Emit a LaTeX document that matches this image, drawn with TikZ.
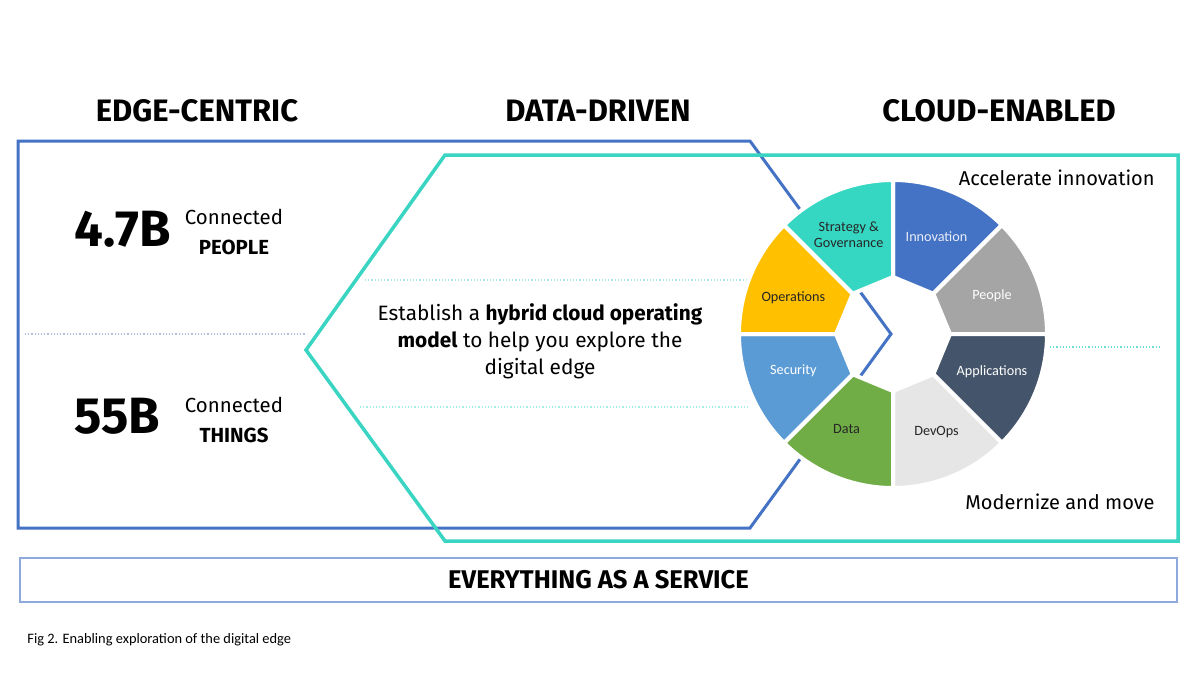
\documentclass[tikz,border=0pt]{standalone}
\usepackage{fontspec}
\usepackage{xcolor}
\usepackage{tikz}
\setmainfont{Fira Sans}
\newfontfamily\calfont{Carlito}
\definecolor{edgeblue}{HTML}{4472C4}
\definecolor{cloudteal}{HTML}{3AD5C2}
\definecolor{barblue}{HTML}{8EA9DB}
\definecolor{stratteal}{HTML}{36D7C2}
\definecolor{innovblue}{HTML}{4472C4}
\definecolor{peoplegray}{HTML}{A5A5A5}
\definecolor{appslate}{HTML}{44546A}
\definecolor{devopsgray}{HTML}{E7E6E6}
\definecolor{datagreen}{HTML}{70AD47}
\definecolor{secblue}{HTML}{5B9BD5}
\definecolor{opsgold}{HTML}{FFC000}

\begin{document}
\begin{tikzpicture}[x=0.5pt, y=0.5pt,
	heading/.style={inner sep=0pt, font=\bfseries\fontsize{15.5}{17}\selectfont},
	bignum/.style={inner sep=0pt, anchor=west, font=\bfseries\fontsize{25.5}{28}\selectfont},
	pairtxt/.style={inner sep=0pt, font=\fontsize{10.2}{12}\selectfont},
	bodytxt/.style={inner sep=0pt, font=\fontsize{10}{13.5}\selectfont},
	edgeline/.style={draw=edgeblue, line width=1.5pt, line join=miter},
	cloudline/.style={draw=cloudteal, line width=1.75pt, line join=miter},
	dotline/.style={densely dotted, line width=0.6pt},
	seg/.style={draw=white, line width=2pt, line join=round},
	seglabel/.style={inner sep=0pt, align=center, font=\calfont\fontsize{7.1}{8.2}\selectfont},
	servicebar/.style={draw=barblue, line width=1.1pt, minimum width=578.5pt, minimum height=22pt, inner sep=0pt, font=\bfseries\fontsize{12.8}{14}\selectfont},
	caption/.style={inner sep=0pt, anchor=west, font=\calfont\fontsize{7.2}{8.5}\selectfont}
	]
		\fill[white] (0,0) rectangle (1200,677);
		\useasboundingbox (0,0) rectangle (1200,677);
		
		\coordinate (leftdot a) at (25,343);
		\coordinate (leftdot b) at (305,343);
		\coordinate (middot a) at (365,397);
		\coordinate (middot b) at (748,397);
		\coordinate (lowdot a) at (360,270);
		\coordinate (lowdot b) at (748,270);
		\coordinate (rightdot a) at (1050,330);
		\coordinate (rightdot b) at (1160,330);
		\draw[dotline, draw=edgeblue!45] (leftdot a) -- (leftdot b);
		\draw[dotline, draw=cloudteal!45] (middot a) -- (middot b);
		\draw[dotline, draw=cloudteal!45] (lowdot a) -- (lowdot b);
		\draw[dotline, draw=cloudteal!75] (rightdot a) -- (rightdot b);
		
		\draw[edgeline] (18,536) -- (750,536) -- (891,343) -- (750,149) -- (18,149) -- cycle;
		\draw[cloudline] (306,327) -- (445,522) -- (1178,522) -- (1178,136) -- (445,136) -- cycle;
		
		\begin{scope}[shift={(893,343)}]
		\filldraw[seg, fill=innovblue] (45:154) arc[start angle=45, end angle=90, radius=154] -- (90:57) -- (45:57) -- cycle;
		\filldraw[seg, fill=peoplegray] (0:154) arc[start angle=0, end angle=45, radius=154] -- (45:57) -- (0:57) -- cycle;
		\filldraw[seg, fill=appslate] (-45:154) arc[start angle=-45, end angle=0, radius=154] -- (0:57) -- (-45:57) -- cycle;
		\filldraw[seg, fill=devopsgray] (-90:154) arc[start angle=-90, end angle=-45, radius=154] -- (-45:57) -- (-90:57) -- cycle;
		\filldraw[seg, fill=datagreen] (-135:154) arc[start angle=-135, end angle=-90, radius=154] -- (-90:57) -- (-135:57) -- cycle;
		\filldraw[seg, fill=secblue] (180:154) arc[start angle=180, end angle=225, radius=154] -- (225:57) -- (180:57) -- cycle;
		\filldraw[seg, fill=opsgold] (135:154) arc[start angle=135, end angle=180, radius=154] -- (180:57) -- (135:57) -- cycle;
		\filldraw[seg, fill=stratteal] (90:154) arc[start angle=90, end angle=135, radius=154] -- (135:57) -- (90:57) -- cycle;
		
		\node[seglabel, text=white!88!innovblue] (innovation) at (66:107) {Innovation};
		\node[seglabel, text=white] (people) at (21:106) {People};
		\node[seglabel, text=white] (applications) at (-21:106) {Applications};
		\node[seglabel, text=black!85] (devops) at (-66:107) {DevOps};
		\node[seglabel, text=black!85] (data) at (-116:106) {Data};
		\node[seglabel, text=white] (security) at (-160:106) {Security};
		\node[seglabel, text=black!85] (operations) at (160:106) {Operations};
		\node[seglabel, text=black!85] (strategy) at (114:109) {Strategy \&\\Governance};
		\end{scope}
		
		\node[heading] (edgehead) at (197,566) {EDGE-CENTRIC};
		\node[heading] (datahead) at (598,566) {DATA-DRIVEN};
		\node[heading] (cloudhead) at (999,566) {CLOUD-ENABLED};
		
		\node[bignum] (peoplenum) at (74,448) {4.7B};
		\node[pairtxt] (peopletop) at (234,460) {Connected};
		\node[pairtxt, font=\bfseries\fontsize{10.2}{12}\selectfont] (peoplebottom) at (234,430) {PEOPLE};
		\node[bignum] (thingsnum) at (74,261) {55B};
		\node[pairtxt] (thingstop) at (234,272) {Connected};
		\node[pairtxt, font=\bfseries\fontsize{10.2}{12}\selectfont] (thingsbottom) at (234,242) {THINGS};
		
		\node[bodytxt, align=center, font=\fontsize{10.4}{13.5}\selectfont] (model) at (540,336) {Establish a \textbf{hybrid cloud operating}\\\textbf{model} to help you explore the\\digital edge};
		\node[bodytxt, anchor=east] (accelerate) at (1155,499) {Accelerate innovation};
		\node[bodytxt, anchor=east] (modernize) at (1155,175) {Modernize and move};
		
		\node[servicebar] (xaas) at (598.5,97) {EVERYTHING AS A SERVICE};
		\node[caption] (figcap) at (27,37) {Fig 2. Enabling exploration of the digital edge};
\end{tikzpicture}
\end{document}
